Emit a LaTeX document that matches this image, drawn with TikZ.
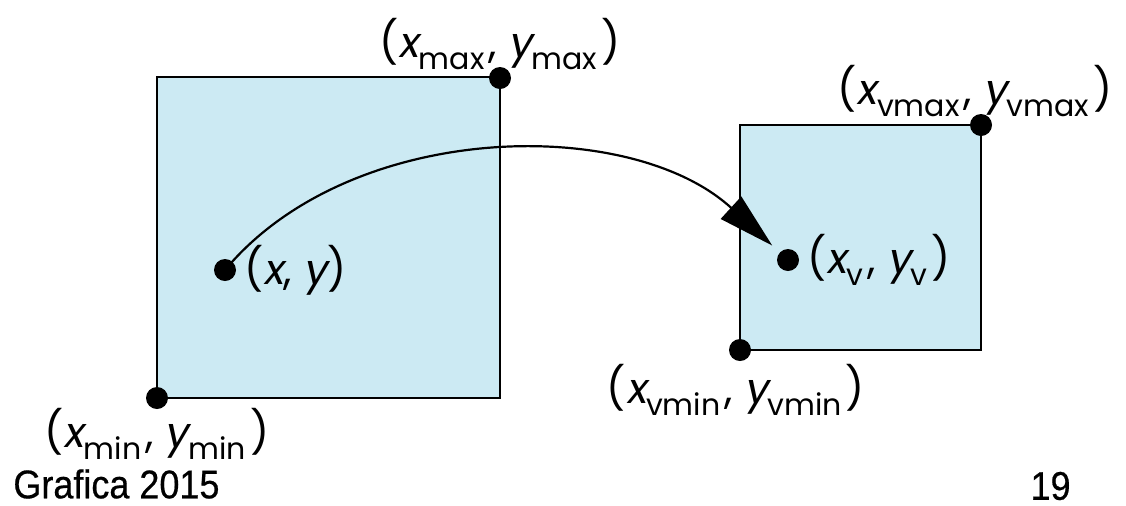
\documentclass[tikz,border=0pt]{standalone}
\usepackage{fontspec}
\setmainfont{Poppins}
\newfontfamily\slfont{Poppins}[FakeSlant=0.18]
\newfontfamily\footfont{Liberation Sans}[FakeStretch=0.9, FakeBold=0.5]
\usetikzlibrary{positioning,arrows.meta}
\definecolor{winblue}{RGB}{204,234,243}
\newcommand{\vx}{{\slfont x}}
\newcommand{\vy}{{\slfont y}}
\newcommand{\sbs}[1]{\raisebox{-6pt}{\fontsize{15pt}{15pt}\selectfont #1}\kern2pt}

\begin{document}
\begin{tikzpicture}[
            x=0.5pt, y=-0.5pt,
            >={Triangle[length=28pt, width=15pt]},
            node distance=2mm,
            win/.style={draw, line width=1.2pt, fill=winblue},
            dot/.style={circle, fill=black, inner sep=0pt, minimum size=11pt},
            lbl/.style={font=\fontsize{21pt}{24pt}\selectfont, inner sep=1pt},
            foot/.style={font=\footfont\fontsize{20pt}{23pt}\selectfont, inner sep=0pt}
        ]
            \useasboundingbox (0,0) rectangle (1126,505);
            % world window and viewport
            \draw[win] (157,77) rectangle (500,398);
            \draw[win] (740,125) rectangle (981,350);

            \node[dot] (wmin) at (157,398) {};
            \node[dot] (wmax) at (500,78) {};
            \node[dot] (vmin) at (740,350) {};
            \node[dot] (vmax) at (981,125) {};
            \node[dot] (pw) at (225,270) {};
            \node[dot] (pv) at (788,260) {};

            \node[lbl, above=-3pt of wmax] (lmax) {(\vx\sbs{max}, \vy\sbs{max})};
            \node[lbl, above=-3pt of vmax, xshift=-3pt] (lvmax) {(\vx\sbs{vmax}, \vy\sbs{vmax})};
            \node[lbl, right=3pt of pw] (lpw) {(\vx, \vy)};
            \node[lbl, right=3pt of pv] (lpv) {(\vx\sbs{v}, \vy\sbs{v})};
            \node[lbl, below=0pt of vmin, xshift=-2pt] (lvmin) {(\vx\sbs{vmin}, \vy\sbs{vmin})};
            \node[lbl, below=-2pt of wmin] (lmin) {(\vx\sbs{min}, \vy\sbs{min})};

            \draw[->, line width=1.1pt, shorten >=5pt] (pw.center) .. controls (350,120) and (630,115) .. (pv);

            \node[foot, anchor=west] (course) at (13,484) {Grafica 2015};
            \node[foot, anchor=east] (page) at (1071,486) {19};
        \end{tikzpicture}
\end{document}
